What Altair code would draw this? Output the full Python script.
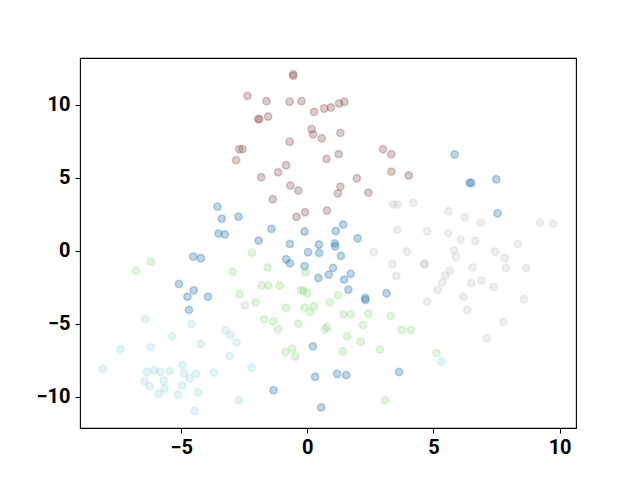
import altair as alt
import pandas as pd

# cluster 0 (blue)
blue_x = [5.84, 6.43, 6.50, 7.49, 7.54, -3.56, -3.39, -2.73, -3.52, -3.27, -4.52, -4.22, -5.09, -4.50, -4.75, -3.94,
          -1.42, -1.93, -0.11, 1.13, 1.42, 1.99, -0.69, 0.46, 1.09, 1.10, 0.03, 0.47, 1.33, -0.84, -0.69, -0.11, 1.02,
          0.85, 0.44, 1.72, 1.46, 1.63, 3.14, 2.30, 2.30, -4.69, 0.22, 0.31, 1.18, 1.54, 3.64, -1.34, 0.55]
blue_y = [6.60, 4.65, 4.65, 4.90, 2.57, 3.03, 2.21, 2.34, 1.18, 1.13, -0.40, -0.51, -2.27, -2.71, -3.14, -3.14,
          1.50, 0.70, 1.32, 1.36, 1.80, 0.86, 0.47, 0.43, 0.51, 0.31, -0.10, -0.14, -0.35, -0.58, -0.86, -1.06, -1.17,
          -1.63, -1.86, -1.58, -1.97, -2.66, -2.91, -3.23, -3.37, -4.05, -6.55, -8.63, -8.44, -8.51, -8.30, -9.54, -10.73]

# cluster 1 (light green)
green_x = [-6.20, -6.78, -2.96, -2.69, -2.20, -1.58, -0.07, -1.81, -1.54, -1.10, -0.25, -0.15, 0.00, 1.22, 0.89, -2.05,
           -0.84, -0.10, 0.26, 0.11, -1.71, -1.35, -1.16, -0.36, 1.43, 1.72, 2.42, 3.31, 2.21, 0.70, 0.78, 3.75, 4.11,
           1.58, 2.12, -0.86, -0.59, -0.48, 1.41, 2.88, 3.08, 5.12]
green_y = [-0.74, -1.36, -1.43, -2.96, -0.14, -1.13, -1.47, -2.37, -2.37, -2.37, -2.70, -2.75, -2.91, -3.05, -3.53, -3.53,
           -3.89, -3.89, -3.80, -4.17, -4.70, -4.83, -5.38, -4.99, -4.35, -4.35, -4.31, -4.46, -5.08, -5.38, -5.22, -5.42, -5.42,
           -5.86, -6.23, -6.93, -6.71, -7.25, -6.89, -6.75, -10.25, -7.00]

# cluster 2 (brown)
brown_x = [-2.37, -2.70, -2.57, -2.82, -0.56, -0.56, -1.62, -0.70, -0.23, 0.27, 0.67, 0.93, 1.26, 1.47, -1.95, -1.90,
           -1.55, 0.17, 0.23, 0.57, 1.31, -0.70, 3.00, 3.33, 0.76, 1.24, -0.84, -1.16, -1.83, 1.96, 3.33, 4.02,
           -0.67, -0.36, -1.37, 1.31, 1.21, 2.42, -0.09, -0.43, 0.78]
brown_y = [10.62, 6.96, 6.96, 6.21, 12.10, 11.99, 10.25, 10.21, 10.25, 9.52, 9.75, 9.82, 10.09, 10.21, 9.02, 9.02,
           9.20, 8.33, 7.97, 7.71, 8.08, 7.47, 6.96, 6.62, 6.30, 6.62, 5.86, 5.38, 5.04, 4.97, 5.43, 5.16,
           4.47, 4.13, 3.53, 4.40, 3.94, 3.99, 2.64, 2.32, 2.76]

# cluster 3 (light gray)
gray_x = [3.40, 3.57, 4.19, 3.56, 2.63, 3.95, 3.37, 3.53, -2.48, 5.59, 6.24, 6.87, 9.22, 9.74, 4.75, 5.59, 6.08, 6.66,
          8.34, 5.81, 5.89, 7.44, 7.83, 4.63, 4.66, 6.55, 7.87, 8.68, 5.64, 5.47, 5.35, 5.16, 6.50, 6.89, 7.38, 4.75,
          6.19, 8.58, 6.34, 7.77, 7.11]
gray_y = [3.17, 3.17, 3.28, 1.43, -0.10, -0.05, -0.90, -1.72, -3.74, 2.71, 2.30, 1.91, 1.93, 1.86, 1.34, 1.23, 0.77, 0.68,
          0.47, 0.03, -0.42, -0.05, -0.51, -0.90, -0.92, -1.13, -1.17, -1.17, -1.36, -1.68, -2.16, -2.68, -2.20, -2.04, -2.48, -3.46,
          -3.14, -3.30, -4.05, -4.88, -6.00]

# cluster 4 (light cyan)
cyan_x = [-6.42, -4.59, -3.24, -3.03, -2.80, -5.34, -4.23, -7.41, -6.20, -3.08, -8.11, -6.36, -6.07, -5.83, -5.46, -4.94,
          -4.89, -4.40, -4.67, -3.70, -6.45, -5.70, -6.25, -5.66, -4.97, -5.89, -5.13, -4.32, -2.71, -4.46, -2.22, 5.30]
cyan_y = [-4.67, -4.99, -5.45, -5.77, -6.29, -5.86, -6.38, -6.73, -6.61, -7.19, -8.10, -8.30, -8.17, -8.30, -8.24, -7.83,
          -8.40, -8.44, -8.74, -8.35, -8.92, -8.92, -9.29, -9.45, -9.22, -9.79, -9.86, -9.70, -10.25, -10.96, -8.00, -7.60]

clusters = ["c0", "c1", "c2", "c3", "c4"]
colors = ["#1f77b4", "#98df8a", "#8c564b", "#c7c7c7", "#9edae5"]

rows = []
for name, xs, ys in zip(clusters, [blue_x, green_x, brown_x, gray_x, cyan_x],
                        [blue_y, green_y, brown_y, gray_y, cyan_y]):
    for a, b in zip(xs, ys):
        rows.append({"x": a, "y": b, "cluster": name})
df = pd.DataFrame(rows)

chart = alt.Chart(df).mark_point(
    shape="circle", filled=True, size=54, fillOpacity=0.3, strokeOpacity=0.3, strokeWidth=1.5
).encode(
    x=alt.X("x:Q", scale=alt.Scale(domain=[-9.01, 10.65], nice=False, zero=False),
            axis=alt.Axis(values=[-5, 0, 5, 10], title=None, grid=False, domain=False,
                          tickColor="black", tickSize=5, tickWidth=1, labelPadding=4,
                          labelFont="Roboto", labelFontWeight="bold", labelFontSize=20,
                          labelColor="black")),
    y=alt.Y("y:Q", scale=alt.Scale(domain=[-12.14, 13.21], nice=False, zero=False),
            axis=alt.Axis(values=[-10, -5, 0, 5, 10], title=None, grid=False, domain=False,
                          tickColor="black", tickSize=5, tickWidth=1, labelPadding=5,
                          labelFont="Roboto", labelFontWeight="bold", labelFontSize=20,
                          labelColor="black")),
    fill=alt.Color("cluster:N", scale=alt.Scale(domain=clusters, range=colors), legend=None),
    stroke=alt.Color("cluster:N", scale=alt.Scale(domain=clusters, range=colors), legend=None),
).properties(
    width=496, height=370,
    autosize=alt.AutoSizeParams(type="none"),
    padding={"left": 72, "top": 50, "right": 56, "bottom": 45},
).configure_view(stroke="black", strokeWidth=1.1)

chart.save("out.html", embed_options={"renderer": "svg", "actions": False})
